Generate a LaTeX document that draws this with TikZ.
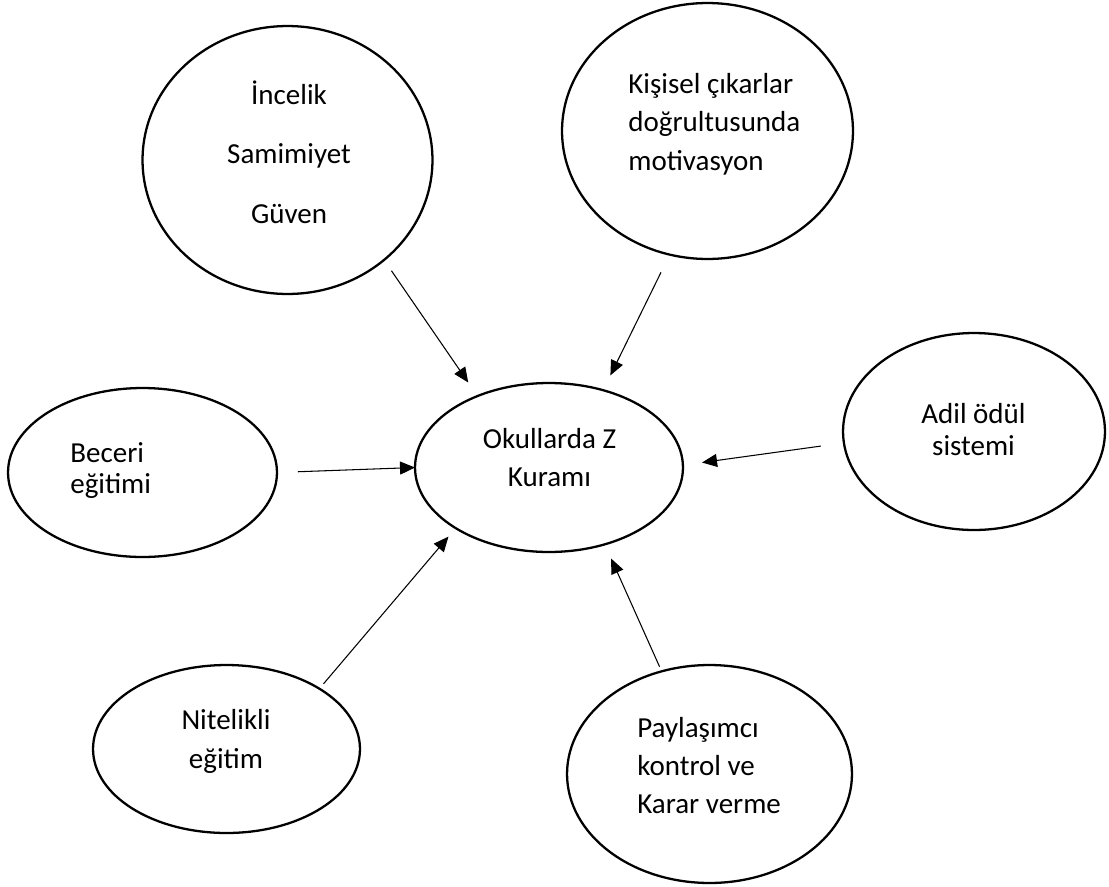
\documentclass[tikz,border=0pt]{standalone}
\usepackage{fontspec}
\setmainfont{Carlito}
\usetikzlibrary{arrows.meta,shapes.geometric}

\begin{document}
\begin{tikzpicture}[x=0.02cm, y=-0.02cm,
    bub/.style={draw, ellipse, line width=1.3pt,
                inner sep=0pt, outer sep=0pt},
    txt/.style={inner sep=0pt, font=\fontsize{16.5}{#1}\selectfont},
    txt/.default=21.9pt,
    arr/.style={-{Triangle[length=0.3cm, width=0.26cm]}, line width=0.6pt}
  ]
  \useasboundingbox (0,0) rectangle (1109,886);
  %% Bubbles
  \node[bub, minimum width=5.8cm,  minimum height=5.36cm] (inc) at (287.5,160)   {};
  \node[bub, minimum width=5.82cm, minimum height=5.12cm] (kis) at (707.5,131)   {};
  \node[bub, minimum width=5.38cm, minimum height=3.38cm] (bec) at (142.5,472.5) {};
  \node[bub, minimum width=5.36cm, minimum height=3.38cm] (okz) at (549,467.5)   {};
  \node[bub, minimum width=5.24cm, minimum height=3.94cm] (adl) at (974,431.5)   {};
  \node[bub, minimum width=5.34cm, minimum height=3.36cm] (nit) at (226.5,749)   {};
  \node[bub, minimum width=5.7cm,  minimum height=4.36cm] (pay) at (709.5,774)   {};
  %% Texts (base = last line)
  \node[txt=33.6pt, align=center, anchor=base] (inc-t) at (289,223)
       {İncelik\\Samimiyet\\Güven};
  \node[txt, align=left, anchor=base west] (kis-t) at (628,170)
       {Kişisel çıkarlar\\doğrultusunda\\motivasyon};
  \node[txt=17.6pt, align=left, anchor=base west] (bec-t) at (70,493)
       {Beceri\\eğitimi};
  \node[txt=21.6pt, align=center, anchor=base] (okz-t) at (549.5,486)
       {Okullarda Z\\Kuramı};
  \node[txt=18.2pt, align=center, anchor=base] (adl-t) at (973.5,455)
       {Adil ödül\\sistemi};
  \node[txt=22.2pt, align=center, anchor=base] (nit-t) at (226,768)
       {Nitelikli\\eğitim};
  \node[txt=21.6pt, align=left, anchor=base west] (pay-t) at (637,813)
       {Paylaşımcı\\kontrol ve\\Karar verme};
  %% Arrows into the centre
  \draw[arr, shorten <=0.262cm, shorten >=0.328cm] (inc.-46.8)  -- (okz.135.7);
  \draw[arr, shorten <=0.396cm, shorten >=0.33cm]  (kis.-107.9) -- (okz.55.8);
  \draw[arr, shorten <=0.42cm]                      (bec.0)      -- (okz.180);
  \draw[arr, shorten <=0.466cm, shorten >=0.386cm] (adl.185.6)  -- (okz.1.8);
  \draw[arr, shorten <=0.126cm, shorten >=0.222cm] (nit.33.9)   -- (okz.213.9);
  \draw[arr, shorten <=0.1cm,   shorten >=0.314cm] (pay.115.3)  -- (okz.-54.8);
\end{tikzpicture}
\end{document}
